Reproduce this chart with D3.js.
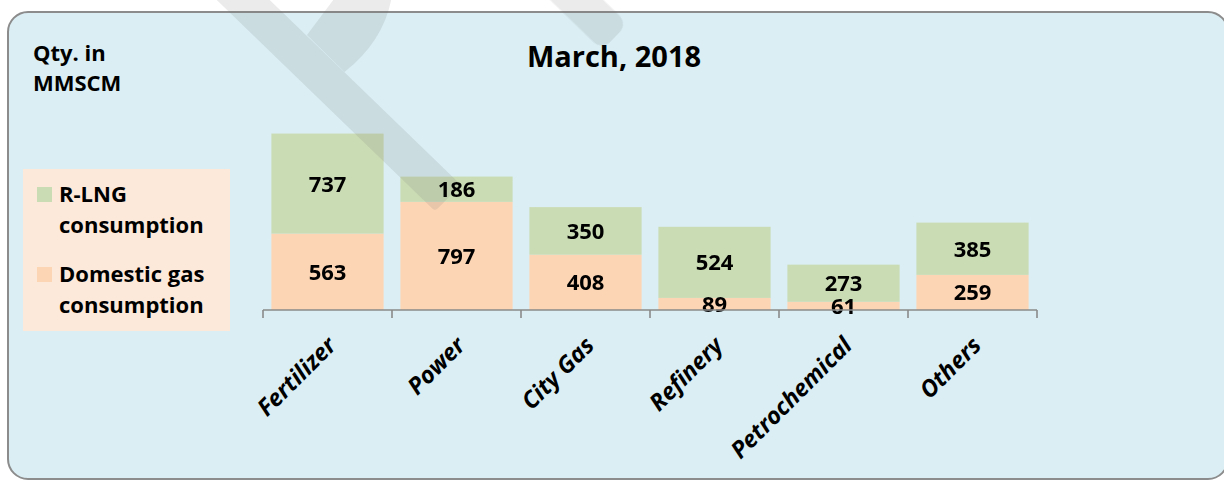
<!DOCTYPE html>
<html>
<head>
<meta charset="utf-8">
<script src="https://cdn.jsdelivr.net/npm/d3@7"></script>
<style>
  body { margin: 0; background: #fff; }
  svg { display: block; font-family: "Open Sans", sans-serif; }
</style>
</head>
<body>
<script>
const categories = ["Fertilizer", "Power", "City Gas", "Refinery", "Petrochemical", "Others"];
const domesticGas = [563, 797, 408, 89, 61, 259];
const rlng = [737, 186, 350, 524, 273, 385];
const legendLabels = [["R-LNG", "consumption"], ["Domestic gas", "consumption"]];
const title = "March, 2018";
const unitLabel = ["Qty. in", "MMSCM"];

const width = 1224;
const height = 482;
const colors = { domestic: "#fcd5b4", rlng: "#cadcb4" };

const rows = categories.map((c, i) => ({ category: c, domestic: domesticGas[i], rlng: rlng[i] }));
const stacked = d3.stack().keys(["domestic", "rlng"])(rows);

const x = d3
  .scaleBand()
  .domain(categories)
  .range([263, 1037])
  .paddingInner(0.13)
  .paddingOuter(0.065);

const y = d3.scaleLinear().domain([0, 1400]).range([310, 120]);

const svg = d3
  .select("body")
  .append("svg")
  .attr("width", width)
  .attr("height", height);

// panel
svg
  .append("rect")
  .attr("x", 8)
  .attr("y", 12)
  .attr("width", 1220)
  .attr("height", 467)
  .attr("rx", 20)
  .attr("fill", "#daeef3")
  .attr("stroke", "#8c8c8c")
  .attr("stroke-width", 2);

// unit label + title
svg
  .append("g")
  .selectAll("text")
  .data(unitLabel)
  .join("text")
  .attr("x", 33)
  .attr("y", (d, i) => 61 + i * 30)
  .attr("font-size", 22)
  .attr("font-weight", 700)
  .text((d) => d);

svg
  .append("text")
  .attr("x", 614)
  .attr("y", 67)
  .attr("text-anchor", "middle")
  .attr("font-size", 29)
  .attr("font-weight", 700)
  .text(title);

// legend
const legendG = svg.append("g");
legendG
  .append("rect")
  .attr("x", 23)
  .attr("y", 169)
  .attr("width", 207)
  .attr("height", 162)
  .attr("fill", "#fde9d9");

const legendItem = legendG
  .selectAll(".item")
  .data([colors.rlng, colors.domestic])
  .join("g")
  .attr("class", "item")
  .attr("transform", (d, i) => `translate(0,${i * 80})`);

legendItem
  .append("rect")
  .attr("x", 37)
  .attr("y", 187)
  .attr("width", 15)
  .attr("height", 15)
  .attr("fill", (d) => d);

legendItem
  .selectAll("text")
  .data((d, i) => legendLabels[i])
  .join("text")
  .attr("x", 59)
  .attr("y", (d, j) => 202 + j * 31)
  .attr("font-size", 22)
  .attr("font-weight", 700)
  .text((d) => d);

// bars
const barsG = svg.append("g");
barsG
  .selectAll("g")
  .data(stacked)
  .join("g")
  .attr("fill", (s) => colors[s.key])
  .selectAll("rect")
  .data((s) => s)
  .join("rect")
  .attr("x", (d) => x(d.data.category))
  .attr("y", (d) => y(d[1]))
  .attr("width", x.bandwidth())
  .attr("height", (d) => y(d[0]) - y(d[1]));

// watermark strokes
const markG = svg.append("g").attr("opacity", 0.14).attr("fill", "#6e6e6e");
const ang = (Math.atan2(0.967, 1) * 180) / Math.PI;
markG
  .append("path")
  .attr("d", "M307,35 L344.5,72 Q385,40 392,-5 L337,-5 Z");
markG
  .append("rect")
  .attr("x", -420)
  .attr("y", -18.4)
  .attr("width", 420)
  .attr("height", 36.8)
  .attr("rx", 4)
  .attr("transform", `translate(448,198) rotate(${ang})`);
markG
  .append("rect")
  .attr("x", -300)
  .attr("y", -18.4)
  .attr("width", 300)
  .attr("height", 36.8)
  .attr("rx", 12)
  .attr("transform", `translate(615,37) rotate(${ang})`);

// data labels
svg
  .append("g")
  .selectAll("g")
  .data(stacked)
  .join("g")
  .selectAll("text")
  .data((s) => s.map((d) => ({ d, key: s.key })))
  .join("text")
  .attr("x", (e) => x(e.d.data.category) + x.bandwidth() / 2)
  .attr("y", (e) => (y(e.d[0]) + y(e.d[1])) / 2)
  .attr("dy", "0.36em")
  .attr("text-anchor", "middle")
  .attr("font-size", 22)
  .attr("font-weight", 700)
  .text((e) => e.d.data[e.key]);

// axis
const axisG = svg.append("g").attr("stroke", "#8a8a8a").attr("stroke-width", 1.6);
const [x0, x1] = x.range();
axisG.append("line").attr("x1", x0).attr("x2", x1).attr("y1", 310).attr("y2", 310);
axisG
  .selectAll(".tick")
  .data(d3.range(categories.length + 1))
  .join("line")
  .attr("class", "tick")
  .attr("x1", (i) => x0 + i * x.step())
  .attr("x2", (i) => x0 + i * x.step())
  .attr("y1", 310)
  .attr("y2", 318);

svg
  .append("g")
  .selectAll("text")
  .data(categories)
  .join("text")
  .attr("transform", (d) => `translate(${x(d) + x.bandwidth() / 2 + 10},347) rotate(-45)`)
  .attr("text-anchor", "end")
  .attr("font-size", 23.5)
  .attr("font-weight", 700)
  .attr("font-style", "italic")
  .text((d) => d);
</script>
</body>
</html>
